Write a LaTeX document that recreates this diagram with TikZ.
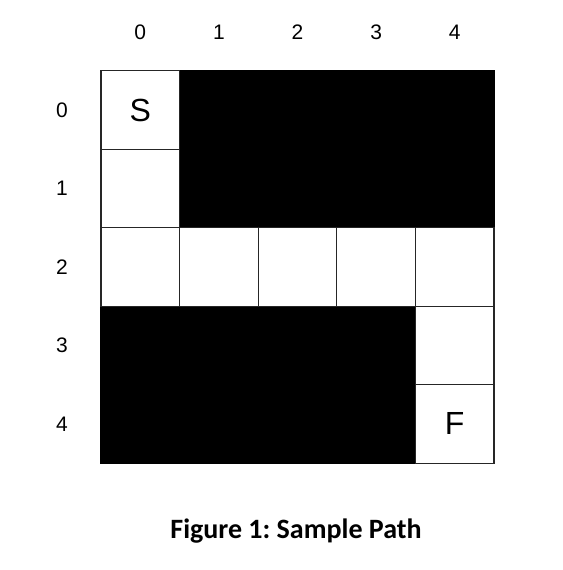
\documentclass[tikz,border=0pt]{standalone}
\usepackage{fontspec}
\setmainfont{Liberation Sans}
\newfontfamily\capfont{Carlito}
\frenchspacing
\begin{document}
\begin{tikzpicture}[x=1pt,y=-1pt,
  cell/.style={line width=1.1pt, minimum size=78.6pt, inner sep=0pt},
  wcell/.style={cell, draw=black!85, fill=white},
  bcell/.style={cell, draw=black, fill=black},
  letterlab/.style={font=\fontsize{32}{36}\selectfont, inner sep=0pt},
  lab/.style={font=\fontsize{21}{24}\selectfont, inner sep=0pt}]
\useasboundingbox (0,0) rectangle (562,570);
% black cells first, white cells on top so their borders show
\foreach \i/\j in {0/1,0/2,0/3,0/4,1/1,1/2,1/3,1/4,3/0,3/1,3/2,3/3,4/0,4/1,4/2,4/3}{
  \node[bcell] (c\i\j) at ({101+78.6*(\j+0.5)},{71+78.4*(\i+0.5)}) {};
}
\foreach \i/\j in {0/0,1/0,2/0,2/1,2/2,2/3,2/4,3/4,4/4}{
  \node[wcell] (c\i\j) at ({101+78.6*(\j+0.5)},{71+78.4*(\i+0.5)}) {};
}
\node[letterlab] (s) at (c00) {S};
\node[letterlab] (f) at (c44) {F};
\foreach \j in {0,...,4}{
  \node[lab] (col\j) at ({101+78.6*(\j+0.5)},32) {\j};
  \node[lab] (row\j) at (62,{71+78.4*(\j+0.5)}) {\j};
}
\node[font=\capfont\bfseries\fontsize{28}{32}\selectfont, inner sep=0pt] (cap) at (296,531) {Figure 1:\ Sample Path};
\end{tikzpicture}
\end{document}
